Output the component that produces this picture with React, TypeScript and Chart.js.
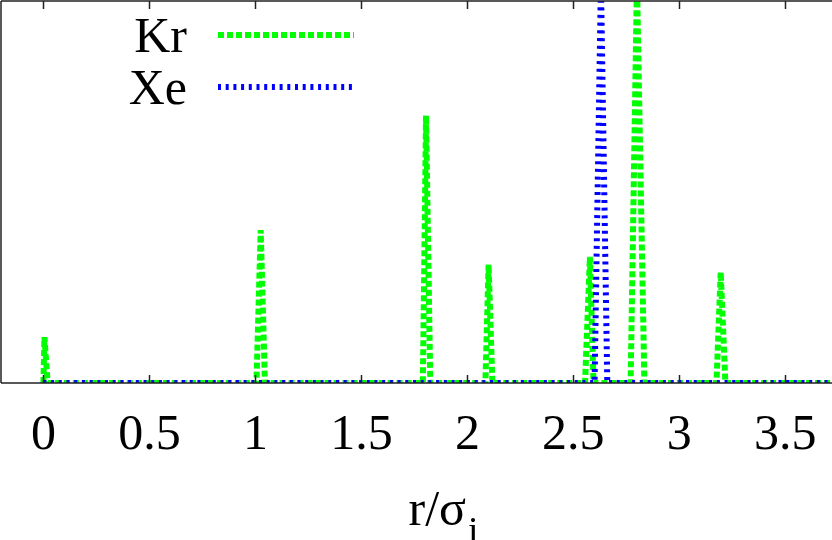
import React, { useEffect, useRef } from "react";
import { Chart, registerables } from "chart.js";

Chart.register(...registerables);

// ---- data ----
const SERIES_LABELS = ["Kr", "Xe"];
const KR_X = [0, 0.005, 0.02, 1.005, 1.025, 1.045, 1.79, 1.805, 1.825, 2.085, 2.1, 2.118, 2.555, 2.578, 2.595, 2.77, 2.8, 2.835, 3.175, 3.195, 3.217, 3.72];
const KR_Y = [0, 1.2, 0, 0, 4.0, 0, 0, 7.0, 0, 0, 3.1, 0, 0, 3.3, 0, 0, 10.5, 0, 0, 2.9, 0, 0];
const XE_X = [0, 2.6, 2.63, 2.66, 3.72];
const XE_Y = [0, 0, 10.5, 0, 0];
const X_TICKS = [0, 0.5, 1, 1.5, 2, 2.5, 3, 3.5];
const X_TICK_LABELS = ["0", "0.5", "1", "1.5", "2", "2.5", "3", "3.5"];
const X_MIN = -0.2;
const X_MAX = 3.72;
const Y_MIN = 0;
const Y_MAX = 10;
const X_TITLE = "r/σ";
const X_TITLE_SUB = "i";

const FONT = "'Liberation Serif', 'Times New Roman', serif";
const AXIS_COLOR = "#222222";

const framePlugin = {
  id: "frame",
  afterDatasetsDraw(chart: any) {
    const { ctx, chartArea: a, scales } = chart;
    const x = scales.x;
    ctx.save();
    ctx.strokeStyle = AXIS_COLOR;
    ctx.lineWidth = 1.5;
    ctx.setLineDash([]);
    ctx.beginPath();
    ctx.moveTo(a.left, a.top);
    ctx.lineTo(a.right, a.top);
    ctx.moveTo(a.left, a.top);
    ctx.lineTo(a.left, a.bottom);
    ctx.moveTo(a.left, a.bottom);
    ctx.lineTo(a.right, a.bottom);
    for (const v of X_TICKS) {
      const px = Math.round(x.getPixelForValue(v)) + 0.5;
      ctx.moveTo(px, a.top);
      ctx.lineTo(px, a.top + 8);
      ctx.moveTo(px, a.bottom);
      ctx.lineTo(px, a.bottom - 8);
    }
    ctx.stroke();
    ctx.restore();
  },
};

const legendTitlePlugin = {
  id: "legendTitle",
  afterDraw(chart: any) {
    const { ctx, chartArea: a } = chart;
    ctx.save();
    const rows = [
      { textBase: 52, lineY: 35 },
      { textBase: 104, lineY: 87 },
    ];
    chart.data.datasets.forEach((ds: any, i: number) => {
      const r = rows[i];
      ctx.font = `50px ${FONT}`;
      ctx.fillStyle = "#000";
      ctx.textAlign = "right";
      ctx.textBaseline = "alphabetic";
      ctx.fillText(ds.label, 187, r.textBase);
      ctx.strokeStyle = ds.borderColor;
      ctx.lineWidth = ds.borderWidth;
      ctx.setLineDash(ds.borderDash);
      ctx.lineCap = "butt";
      ctx.beginPath();
      ctx.moveTo(218, r.lineY);
      ctx.lineTo(354, r.lineY);
      ctx.stroke();
    });
    ctx.setLineDash([]);
    const cx = (a.left + a.right) / 2;
    ctx.font = `50px ${FONT}`;
    ctx.textAlign = "left";
    ctx.fillStyle = "#000";
    const startX = cx - 8;
    ctx.fillText(X_TITLE, startX, 525);
    const w = ctx.measureText(X_TITLE).width;
    ctx.font = `38px ${FONT}`;
    ctx.fillText(X_TITLE_SUB, startX + w + 2, 543);
    ctx.restore();
  },
};

export default function App() {
  const ref = useRef<HTMLCanvasElement | null>(null);
  useEffect(() => {
    document.body.style.margin = "0";
    const canvas = ref.current;
    if (!canvas) return;
    const kr = KR_X.map((x, i) => ({ x, y: KR_Y[i] }));
    const xe = XE_X.map((x, i) => ({ x, y: XE_Y[i] }));
    const chart = new Chart(canvas, {
      type: "line",
      data: {
        datasets: [
          {
            label: SERIES_LABELS[0],
            data: kr,
            borderColor: "#00ff00",
            borderWidth: 6,
            borderDash: [6, 3],
            pointRadius: 0,
            tension: 0,
            fill: false,
            order: 1,
          },
          {
            label: SERIES_LABELS[1],
            data: xe,
            borderColor: "#0000ff",
            borderWidth: 6,
            borderDash: [3, 4.7],
            pointRadius: 0,
            tension: 0,
            fill: false,
            order: 0,
          },
        ],
      },
      options: {
        responsive: false,
        animation: false,
        devicePixelRatio: 1,
        layout: { padding: { top: 1, left: 1, right: 0, bottom: 74 } },
        plugins: {
          legend: { display: false },
          tooltip: { enabled: false },
          title: { display: false },
        },
        scales: {
          x: {
            type: "linear",
            min: X_MIN,
            max: X_MAX,
            grid: { display: false, drawTicks: false },
            border: { display: false },
            afterBuildTicks: (scale: any) => {
              scale.ticks = X_TICKS.map((v) => ({ value: v }));
            },
            afterFit: (scale: any) => {
              scale.height = 83;
              scale.paddingLeft = 0;
              scale.paddingRight = 0;
            },
            ticks: {
              autoSkip: false,
              maxRotation: 0,
              padding: 23,
              color: "#000",
              font: { family: FONT, size: 50 },
              callback: (value: any) => {
                const idx = X_TICKS.indexOf(Number(value));
                return idx >= 0 ? X_TICK_LABELS[idx] : "";
              },
            },
          },
          y: {
            type: "linear",
            display: false,
            min: Y_MIN,
            max: Y_MAX,
          },
        },
      },
      plugins: [framePlugin, legendTitlePlugin],
    } as any);
    return () => chart.destroy();
  }, []);
  return (
    <div style={{ width: 832, height: 540, position: "relative" }}>
      <canvas ref={ref} width={832} height={540} style={{ display: "block" }} />
    </div>
  );
}
